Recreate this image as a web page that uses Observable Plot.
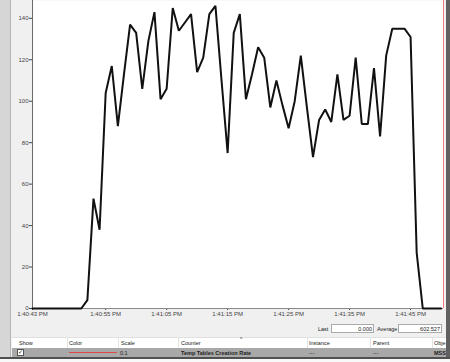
<!DOCTYPE html>
<html>
<head>
<meta charset="utf-8">
<script src="https://cdn.jsdelivr.net/npm/d3@7"></script>
<script src="https://cdn.jsdelivr.net/npm/@observablehq/plot@0.6"></script>
<style>
  body { margin: 0; background: #ffffff; }
  #wrap { position: relative; width: 450px; height: 362px; background: #f0f0f0; overflow: hidden;
          font-family: "Liberation Sans", "DejaVu Sans", sans-serif; color: #222; }
  .abs { position: absolute; }
  .t { position: absolute; font-size: 5.5px; line-height: 6px; white-space: nowrap; }
</style>
</head>
<body>
<div id="wrap"></div>
<script>
// ---- data ----
const startTime = "1:40:43 PM";
const values = [0, 0, 0, 0, 0, 0, 0, 0, 0, 4, 53, 38, 104, 117, 88, 113, 137, 133, 106, 129,
  143, 101, 106, 145, 134, 138, 142, 114, 121, 142, 146, 110, 75, 133, 142, 101, 113, 126, 121, 97,
  110, 98, 87, 100, 122, 97, 73, 91, 96, 90, 113, 91, 93, 121, 89, 89, 116, 83, 122, 135,
  135, 135, 131, 27, 0, 0, 0, 0];
const xTickLabels = ["1:40:43 PM", "1:40:55 PM", "1:41:05 PM", "1:41:15 PM", "1:41:25 PM", "1:41:35 PM", "1:41:45 PM"];
const yTicks = [0, 20, 40, 60, 80, 100, 120, 140];
const yMax = 148.6;
const cursorSeconds = 67.4;
const legendColumns = ["Show", "Color", "Scale", "Counter", "Instance", "Parent", "Obje"];
const legendRow = {scale: "0.1", counter: "Temp Tables Creation Rate", instance: "---", parent: "---", object: "MSS"};
const lastValue = "0.000";
const averageValue = "602.527";

// ---- build ----
const parse = d3.utcParse("%I:%M:%S %p");
const t0 = parse(startTime);
const data = values.map((v, i) => ({t: new Date(+t0 + i * 1000), v}));
const xTicks = xTickLabels.map(parse);
const tEnd = new Date(+t0 + cursorSeconds * 1000);

const plot = Plot.plot({
  width: 450,
  height: 322,
  marginLeft: 32,
  marginRight: 7,
  marginTop: 0,
  marginBottom: 14,
  style: {fontSize: "6px", fontFamily: "Liberation Sans, DejaVu Sans, sans-serif", color: "#444", background: "transparent", overflow: "visible"},
  x: {type: "utc", domain: [t0, tEnd], ticks: xTicks, tickFormat: d3.utcFormat("%-I:%M:%S %p"), tickSize: 2, tickPadding: 1, label: null},
  y: {domain: [0, yMax], ticks: yTicks, tickSize: 3, tickPadding: 1, label: null},
  marks: [
    Plot.frame({fill: "white", stroke: null}),
    Plot.ruleY([0], {stroke: "#8a8a8a"}),
    Plot.ruleX([t0], {stroke: "#6a6a6a"}),
    Plot.ruleX([tEnd], {stroke: "#f08080", strokeWidth: 1}),
    Plot.lineY(data, {x: "t", y: "v", stroke: "#111", strokeWidth: 2, strokeLinejoin: "miter"})
  ]
});

const wrap = document.getElementById("wrap");
function div(style, text, cls) {
  const d = document.createElement("div");
  d.className = cls || "abs";
  d.setAttribute("style", style);
  if (text != null) d.textContent = text;
  wrap.appendChild(d);
  return d;
}
// left strip
div("left:0;top:0;width:10px;height:358px;background:#d6d6d6;border-right:1px solid #b4b4b4;");
plot.style.position = "absolute";
plot.style.left = "0px";
plot.style.top = "0px";
wrap.appendChild(plot);

// Last / Average
div("left:318px;top:326px;", "Last", "t");
div("left:331px;top:324px;width:43px;height:9px;background:#fff;border:1px solid #aaa;box-sizing:border-box;");
div("left:331px;top:326px;width:41px;text-align:right;", lastValue, "t");
div("left:377px;top:326px;", "Average", "t");
div("left:398px;top:324px;width:44px;height:9px;background:#fff;border:1px solid #aaa;box-sizing:border-box;");
div("left:398px;top:326px;width:42px;text-align:right;", averageValue, "t");

// legend header
div("left:12px;top:337px;width:434px;height:11px;background:#fff;border-top:1px solid #e0e0e0;box-sizing:border-box;");
const colX = [19, 69, 121, 181, 309, 373, 434];
const sepX = [67, 118, 178, 307, 370, 432];
legendColumns.forEach((c, i) => div(`left:${colX[i]}px;top:340px;`, c, "t"));
sepX.forEach(x => div(`left:${x}px;top:337px;width:1px;height:11px;background:#e4e4e4;`));
div("left:240px;top:336px;font-size:5px;", "^", "t");
// legend row
div("left:12px;top:348px;width:434px;height:9px;background:#a8a8a8;");
div("left:17px;top:349px;width:7px;height:7px;background:#fff;border:1px solid #555;box-sizing:border-box;font-size:6px;line-height:5px;text-align:center;", "✓");
div("left:69px;top:352px;width:48px;height:1px;background:#e04848;");
div(`left:120px;top:350px;`, legendRow.scale, "t");
div(`left:181px;top:350px;font-weight:bold;`, legendRow.counter, "t");
div(`left:309px;top:350px;`, legendRow.instance, "t");
div(`left:373px;top:350px;`, legendRow.parent, "t");
div(`left:434px;top:350px;font-weight:bold;`, legendRow.object, "t");

// borders
div("left:446px;top:0;width:4px;height:362px;background:#606060;");
div("left:0;top:357px;width:450px;height:2px;background:#505050;");
div("left:0;top:359px;width:450px;height:3px;background:#f8f8f8;");
</script>
</body>
</html>
